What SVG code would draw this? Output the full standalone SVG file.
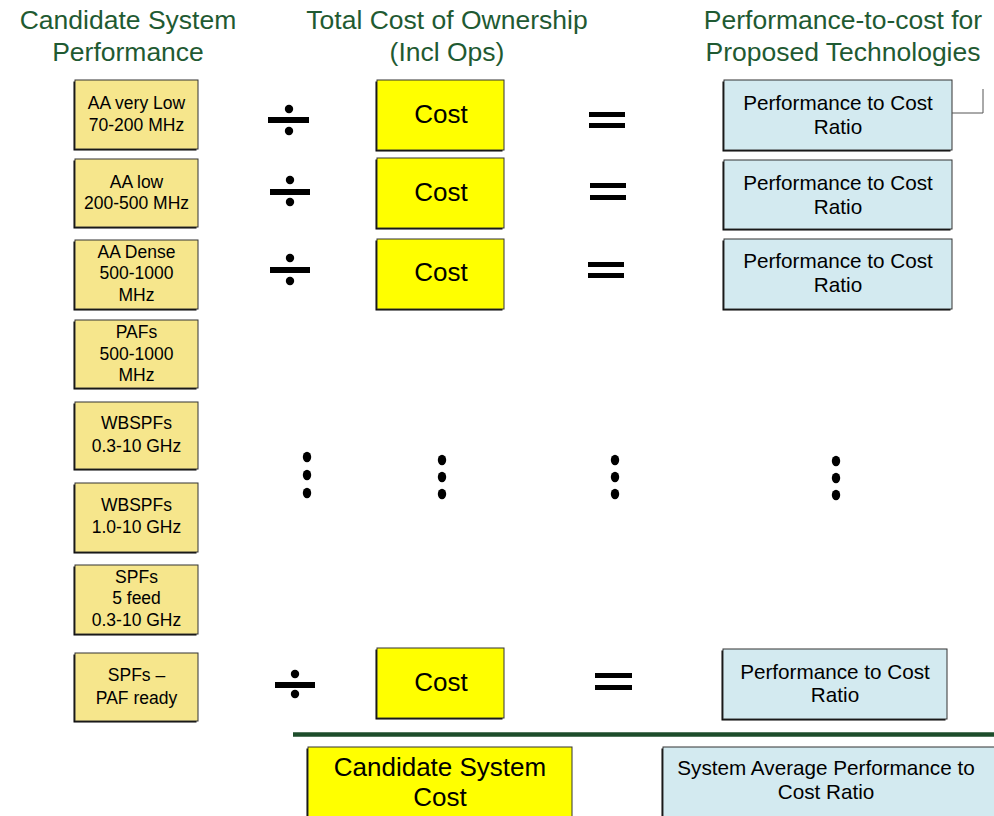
<svg xmlns="http://www.w3.org/2000/svg" width="994" height="816" viewBox="0 0 994 816">
<defs>
<style>
.title{font-family:"Liberation Sans",Arial,sans-serif;font-size:26.5px;fill:#1F5A32;text-anchor:middle}
.perf rect.b{fill:#F6E68C;stroke:#333;stroke-width:1}
.cost rect.b{fill:#FFFF00;stroke:#333;stroke-width:1}
.ratio rect.b{fill:#D3EAF0;stroke:#333;stroke-width:1}
rect.s{fill:#000}
.pt{font-family:"Liberation Sans",Arial,sans-serif;font-size:17.5px;fill:#000;text-anchor:middle}
.ct{font-family:"Liberation Sans",Arial,sans-serif;font-size:26px;fill:#000;text-anchor:middle}
.rt{font-family:"Liberation Sans",Arial,sans-serif;font-size:20.7px;fill:#000;text-anchor:middle}
.op{fill:#000}
</style>
</defs>
<rect width="994" height="816" fill="#fff"/>

<g id="titles">
<text class="title" x="128" y="29">Candidate System</text>
<text class="title" x="128" y="61">Performance</text>
<text class="title" x="447" y="29">Total Cost of Ownership</text>
<text class="title" x="447" y="61">(Incl Ops)</text>
<text class="title" x="843" y="29">Performance-to-cost for</text>
<text class="title" x="843" y="61">Proposed Technologies</text>
</g>

<g id="perf1" class="perf"><rect class="s" x="73.5" y="81.5" width="123" height="69"/><rect class="b" x="75" y="80" width="123" height="69"/>
<text class="pt" x="136.5" y="109">AA very Low</text><text class="pt" x="136.5" y="131">70-200 MHz</text></g>
<g id="perf2" class="perf"><rect class="s" x="73.5" y="160.5" width="123" height="68"/><rect class="b" x="75" y="159" width="123" height="68"/>
<text class="pt" x="136.5" y="188">AA low</text><text class="pt" x="136.5" y="209">200-500 MHz</text></g>
<g id="perf3" class="perf"><rect class="s" x="73.5" y="241.5" width="123" height="69"/><rect class="b" x="75" y="240" width="123" height="69"/>
<text class="pt" x="136.5" y="258">AA Dense</text><text class="pt" x="136.5" y="279">500-1000</text><text class="pt" x="136.5" y="301">MHz</text></g>
<g id="perf4" class="perf"><rect class="s" x="73.5" y="321.5" width="123" height="68"/><rect class="b" x="75" y="320" width="123" height="68"/>
<text class="pt" x="136.5" y="338">PAFs</text><text class="pt" x="136.5" y="360">500-1000</text><text class="pt" x="136.5" y="381">MHz</text></g>
<g id="perf5" class="perf"><rect class="s" x="73.5" y="403.5" width="123" height="67"/><rect class="b" x="75" y="402" width="123" height="67"/>
<text class="pt" x="136.5" y="429">WBSPFs</text><text class="pt" x="136.5" y="452">0.3-10 GHz</text></g>
<g id="perf6" class="perf"><rect class="s" x="73.5" y="484.5" width="123" height="69"/><rect class="b" x="75" y="483" width="123" height="69"/>
<text class="pt" x="136.5" y="511">WBSPFs</text><text class="pt" x="136.5" y="533">1.0-10 GHz</text></g>
<g id="perf7" class="perf"><rect class="s" x="73.5" y="566.5" width="123" height="69"/><rect class="b" x="75" y="565" width="123" height="69"/>
<text class="pt" x="136.5" y="583">SPFs</text><text class="pt" x="136.5" y="604">5 feed</text><text class="pt" x="136.5" y="626">0.3-10 GHz</text></g>
<g id="perf8" class="perf"><rect class="s" x="73.5" y="654.5" width="123" height="68"/><rect class="b" x="75" y="653" width="123" height="68"/>
<text class="pt" x="136.5" y="681">SPFs –</text><text class="pt" x="136.5" y="704">PAF ready</text></g>

<g id="cost1" class="cost"><rect class="s" x="375.5" y="81.5" width="127" height="70"/><rect class="b" x="377" y="80" width="127" height="70"/><text class="ct" x="441" y="123">Cost</text></g>
<g id="cost2" class="cost"><rect class="s" x="375.5" y="159.5" width="127" height="70"/><rect class="b" x="377" y="158" width="127" height="70"/><text class="ct" x="441" y="201">Cost</text></g>
<g id="cost3" class="cost"><rect class="s" x="375.5" y="240.5" width="127" height="70"/><rect class="b" x="377" y="239" width="127" height="70"/><text class="ct" x="441" y="281">Cost</text></g>
<g id="cost4" class="cost"><rect class="s" x="375.5" y="649.5" width="127" height="70"/><rect class="b" x="377" y="648" width="127" height="70"/><text class="ct" x="441" y="691">Cost</text></g>
<g id="systemcost" class="cost"><rect class="s" x="306.5" y="748.5" width="264" height="80"/><rect class="b" x="308" y="747" width="264" height="80"/>
<text class="ct" x="440" y="776">Candidate System</text><text class="ct" x="440" y="806">Cost</text></g>

<g id="ratio1" class="ratio"><rect class="s" x="722.5" y="81.5" width="228" height="70"/><rect class="b" x="724" y="80" width="228" height="70"/>
<text class="rt" x="838" y="110">Performance to Cost</text><text class="rt" x="838" y="134">Ratio</text></g>
<g id="ratio2" class="ratio"><rect class="s" x="722.5" y="161.5" width="228" height="69"/><rect class="b" x="724" y="160" width="228" height="69"/>
<text class="rt" x="838" y="190">Performance to Cost</text><text class="rt" x="838" y="214">Ratio</text></g>
<g id="ratio3" class="ratio"><rect class="s" x="722.5" y="240.5" width="228" height="70"/><rect class="b" x="724" y="239" width="228" height="70"/>
<text class="rt" x="838" y="268">Performance to Cost</text><text class="rt" x="838" y="292">Ratio</text></g>
<g id="ratio4" class="ratio"><rect class="s" x="721.5" y="650.5" width="224" height="70"/><rect class="b" x="723" y="649" width="224" height="70"/>
<text class="rt" x="835" y="679">Performance to Cost</text><text class="rt" x="835" y="702">Ratio</text></g>
<g id="systemratio" class="ratio"><rect class="s" x="661.5" y="748.5" width="340" height="80"/><rect class="b" x="663" y="747" width="340" height="80"/>
<text class="rt" x="826" y="775">System Average Performance to</text><text class="rt" x="826" y="799">Cost Ratio</text></g>

<g id="operators" class="op">
<rect x="268" y="117" width="41" height="6"/><circle cx="289" cy="109" r="4.2"/><circle cx="289" cy="131" r="4.2"/>
<rect x="270" y="189" width="40" height="6"/><circle cx="290" cy="180" r="4.2"/><circle cx="290" cy="202" r="4.2"/>
<rect x="270" y="267" width="40" height="6"/><circle cx="290" cy="258" r="4.2"/><circle cx="290" cy="281" r="4.2"/>
<rect x="275" y="682" width="40" height="6"/><circle cx="295" cy="674" r="4.2"/><circle cx="295" cy="694" r="4.2"/>
<rect x="589" y="112" width="36" height="5"/><rect x="589" y="123" width="36" height="5"/>
<rect x="590" y="183" width="36" height="5"/><rect x="590" y="195" width="36" height="5"/>
<rect x="588" y="262" width="36" height="5"/><rect x="588" y="273" width="36" height="5"/>
<rect x="595" y="673" width="37" height="5"/><rect x="595" y="685" width="37" height="5"/>
</g>

<g id="ellipses" class="op">
<ellipse cx="307" cy="457" rx="4.2" ry="5.2"/><ellipse cx="307" cy="475" rx="4.2" ry="5.2"/><ellipse cx="307" cy="493" rx="4.2" ry="5.2"/>
<ellipse cx="442" cy="460" rx="4.2" ry="5.2"/><ellipse cx="442" cy="477" rx="4.2" ry="5.2"/><ellipse cx="442" cy="494" rx="4.2" ry="5.2"/>
<ellipse cx="615" cy="460" rx="4.2" ry="5.2"/><ellipse cx="615" cy="477" rx="4.2" ry="5.2"/><ellipse cx="615" cy="494" rx="4.2" ry="5.2"/>
<ellipse cx="836" cy="461" rx="4.2" ry="5.2"/><ellipse cx="836" cy="478" rx="4.2" ry="5.2"/><ellipse cx="836" cy="495" rx="4.2" ry="5.2"/>
</g>

<g id="connectors" fill="none">
<polyline points="952,113 983,113 983,89" stroke="#555" stroke-width="1"/>
<line x1="293" y1="734.5" x2="994" y2="734.5" stroke="#1D4D2B" stroke-width="4.5"/>
</g>
</svg>
